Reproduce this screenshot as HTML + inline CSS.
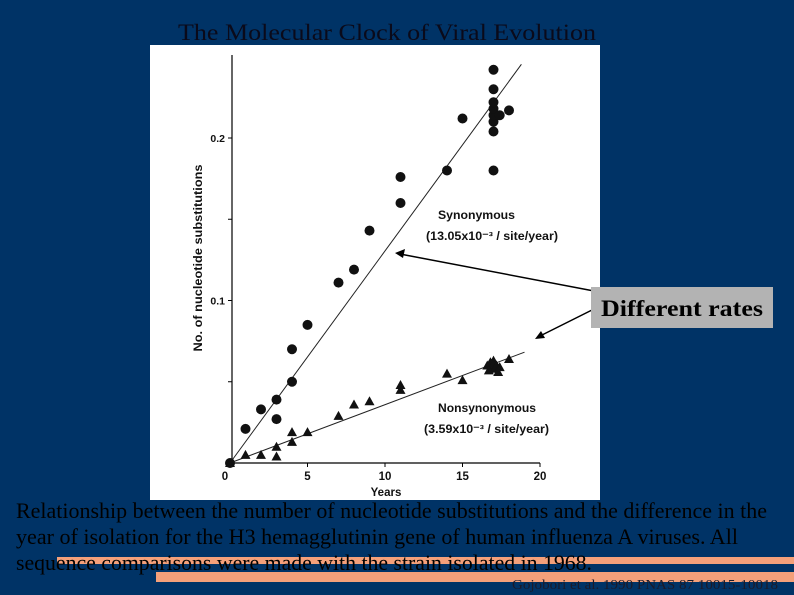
<!DOCTYPE html>
<html><head><meta charset="utf-8"><style>
html,body{margin:0;padding:0;background:#003366;}
svg{display:block;}
</style></head><body>
<svg width="794" height="595" viewBox="0 0 794 595" xmlns="http://www.w3.org/2000/svg">
<rect x="0" y="0" width="794" height="595" fill="#003366"/>
<text x="178" y="40" font-family="Liberation Serif, serif" font-size="23" fill="#0a0a1a" textLength="418" lengthAdjust="spacingAndGlyphs">The Molecular Clock of Viral Evolution</text>
<rect x="150" y="45" width="450" height="455" fill="#ffffff"/>
<g id="chart"></g>
<g>
<line x1="594" y1="291" x2="400" y2="254" stroke="#000" stroke-width="1.5"/>
<polygon points="395,253 405,249 403,258" fill="#000"/>
<line x1="596" y1="308" x2="540" y2="336" stroke="#000" stroke-width="1.5"/>
<polygon points="535,339 541,331 545,338" fill="#000"/>
<rect x="591" y="287" width="182" height="41" fill="#b3b3b3"/>
<text x="601" y="316" font-family="Liberation Serif, serif" font-weight="bold" font-size="23" fill="#000" textLength="162" lengthAdjust="spacingAndGlyphs">Different rates</text>
</g>
<rect x="57" y="557" width="737" height="7" fill="#f4a07a"/>
<rect x="156" y="572" width="638" height="10" fill="#f4a07a"/>
<g font-family="Liberation Serif, serif" font-size="22" fill="#000">
<text x="16" y="518" textLength="751" lengthAdjust="spacingAndGlyphs">Relationship between the number of nucleotide substitutions and the difference in the</text>
<text x="16" y="544" textLength="722" lengthAdjust="spacingAndGlyphs">year of isolation for the H3 hemagglutinin gene of human influenza A viruses. All</text>
<text x="16" y="570" textLength="576" lengthAdjust="spacingAndGlyphs">sequence comparisons were made with the strain isolated in 1968.</text>
</g>
<text x="512" y="589" font-family="Liberation Serif, serif" font-size="14" fill="#1a1a2a" textLength="266" lengthAdjust="spacingAndGlyphs">Gojobori et al. 1990 PNAS 87 10015-10018</text>
</svg>
<script>
const synYears = [0,1,2,3,3,4,4,5,7,8,9,11,11,14,15,17,17,17,17,17,17,17,17,17.4,18];
const synValues = [0,0.021,0.033,0.039,0.027,0.050,0.070,0.085,0.111,0.119,0.143,0.160,0.176,0.180,0.212,0.180,0.204,0.210,0.214,0.218,0.222,0.230,0.242,0.214,0.217];
const nonYears = [0,1,2,3,3,4,4,5,7,8,9,11,11,14,15,16.6,16.8,17,17,17,17.2,17.4,16.7,17.3,18];
const nonValues = [0,0.005,0.005,0.004,0.010,0.013,0.019,0.019,0.029,0.036,0.038,0.045,0.048,0.055,0.051,0.060,0.062,0.063,0.058,0.061,0.060,0.059,0.057,0.056,0.064];
const synRate = 0.01305;
const nonRate = 0.00359;
const synLineEnd = 18.8;
const nonLineEnd = 19;
const xTicks = [0,5,10,15,20];
const yTicks = [0,0.05,0.1,0.15,0.2];
const yTickLabels = ["","","0.1","","0.2"];

const NS='http://www.w3.org/2000/svg';
const g=document.getElementById('chart');
const X=v=>230+v*15.5;
const Y=v=>463-v*1625;
function mk(t,a){const e=document.createElementNS(NS,t);for(const k in a)e.setAttribute(k,a[k]);g.appendChild(e);return e;}
let e;
e=mk('line',{x1:232,y1:55,x2:232,y2:463,stroke:'#000','stroke-width':1.2});


e=mk('line',{x1:230,y1:463,x2:540,y2:463,stroke:'#000','stroke-width':1.2});


xTicks.forEach(t=>{
  e=mk('line',{x1:X(t),y1:463,x2:X(t),y2:467,stroke:'#000'});
  
  
  e=mk('text',{x:t===0?X(t)-5:X(t),y:480,'text-anchor':'middle','font-family':'Liberation Sans, sans-serif','font-weight':'bold','font-size':11.5,fill:'#111'});
  e.textContent=t;
  
  
});
yTicks.forEach((t,i)=>{
  e=mk('line',{x1:228,y1:Y(t),x2:232,y2:Y(t),stroke:'#000'});
  
  
  if(yTickLabels[i]){
    e=mk('text',{x:225,y:Y(t)+4,'text-anchor':'end','font-family':'Liberation Sans, sans-serif','font-weight':'bold','font-size':10.5,fill:'#111'});
    e.textContent=yTickLabels[i];
    
    
  }
});
e=mk('text',{x:386,y:496,'text-anchor':'middle','font-family':'Liberation Sans, sans-serif','font-weight':'bold','font-size':11.5,fill:'#111'});
e.textContent='Years';


e=mk('text',{x:0,y:0,'text-anchor':'middle','font-family':'Liberation Sans, sans-serif','font-weight':'bold','font-size':12,fill:'#111',transform:'translate(202,258) rotate(-90)',textLength:187,lengthAdjust:'spacingAndGlyphs'});
e.textContent='No. of nucleotide substitutions';


e=mk('line',{x1:X(0),y1:Y(0),x2:X(synLineEnd),y2:Y(synRate*synLineEnd),stroke:'#222','stroke-width':1});


e=mk('line',{x1:X(0),y1:Y(0),x2:X(nonLineEnd),y2:Y(nonRate*nonLineEnd),stroke:'#222','stroke-width':1});


synYears.forEach((yr,i)=>{
  e=mk('circle',{cx:X(yr),cy:Y(synValues[i]),r:5,fill:'#111'});
  
  
});
nonYears.forEach((yr,i)=>{
  const cx=X(yr),cy=Y(nonValues[i]);
  e=mk('polygon',{points:`${cx},${cy-5} ${cx-5},${cy+4} ${cx+5},${cy+4}`,fill:'#111'});
  
  
});
[['Synonymous',438,219,'synonymous-label',77],['(13.05x10\u207B\u00B3 / site/year)',426,240,'synonymous-rate-label',132],['Nonsynonymous',438,412,'nonsynonymous-label',98],['(3.59x10\u207B\u00B3 / site/year)',424,433,'nonsynonymous-rate-label',125]].forEach(a=>{
  e=mk('text',{x:a[1],y:a[2],'font-family':'Liberation Sans, sans-serif','font-weight':'bold','font-size':11.5,fill:'#111',textLength:a[4],lengthAdjust:'spacingAndGlyphs'});
  e.textContent=a[0];
  
  
});
</script>
</body></html>
